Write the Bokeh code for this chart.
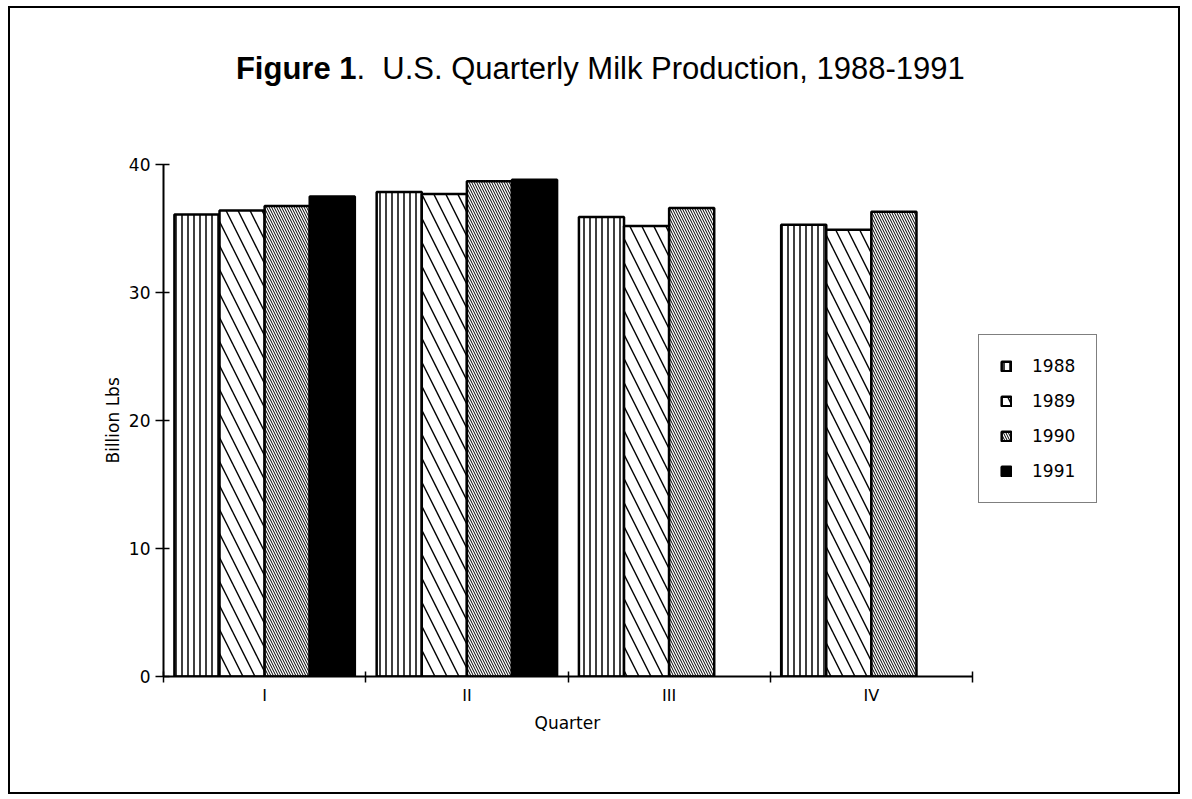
from bokeh.plotting import figure
from bokeh.models import ColumnDataSource, FixedTicker, Legend, LegendItem, Range1d, Label, Title
from bokeh.transform import dodge
from bokeh.embed import file_html
from bokeh.resources import INLINE

quarters = ["I", "II", "III", "IV"]
years = ["1988", "1989", "1990", "1991"]
y1988 = [36.1, 37.85, 35.9, 35.3]
y1989 = [36.4, 37.7, 35.2, 34.9]
y1990 = [36.75, 38.7, 36.6, 36.3]
y1991 = [37.5, 38.8, float("nan"), float("nan")]
y_ticks = [0, 10, 20, 30, 40]
title_bold = "Figure 1"
title_rest = ".\u00a0\u00a0U.S. Quarterly Milk Production, 1988-1991"
x_label = "Quarter"
y_label = "Billion Lbs"

n = len(quarters)
xpos = [i + 0.5 for i in range(n)]
source = ColumnDataSource(dict(x=xpos, q=quarters, y1988=y1988, y1989=y1989,
                               y1990=y1990, y1991=y1991))

# layout (pixels): axes region 809 x 512, frame extended right/up for legend and title
W, H = 1172, 788
left, bottom = 153, 120
axis_w, axis_h = 809, 512
frame_w, frame_h = W - left, H - bottom
y_max = y_ticks[-1]
x_end = n * frame_w / axis_w
y_end = y_max * frame_h / axis_h

p = figure(width=W, height=H, output_backend="svg", toolbar_location=None,
           x_range=Range1d(0, x_end), y_range=Range1d(0, y_end),
           min_border_left=left, min_border_right=0, min_border_top=0,
           min_border_bottom=bottom, title=None)
p.styles = {"border": "2px solid black", "margin-left": "8px", "margin-top": "6px"}
p.outline_line_color = None
p.xgrid.visible = False
p.ygrid.visible = False

w = 0.223
styles = {
    "1988": dict(fill_color="white", hatch_pattern="vertical_line", hatch_scale=6, hatch_weight=1.5),
    "1989": dict(fill_color="white", hatch_pattern="left_diagonal_line", hatch_scale=24, hatch_weight=1.4),
    "1990": dict(fill_color="white", hatch_pattern="left_diagonal_line", hatch_scale=5, hatch_weight=1.0),
    "1991": dict(fill_color="black"),
}
offsets = [-1.5 * w, -0.5 * w, 0.5 * w, 1.5 * w]
items = []
for yr, off in zip(years, offsets):
    r = p.vbar(x=dodge("x", off, range=p.x_range), top="y" + yr, width=w, bottom=0,
               source=source, line_color="black", line_width=2.5,
               hatch_color="black", **styles[yr])
    items.append(LegendItem(label=yr, renderers=[r]))

font = "DejaVu Sans"
legend = Legend(items=items, location=(815, 173), border_line_color="black",
                border_line_width=1.5, padding=21, spacing=15, glyph_width=12,
                glyph_height=12, label_standoff=20, label_text_font=font,
                label_text_font_size="17px", label_height=20, margin=0,
                label_text_color="black",
                background_fill_color="white", background_fill_alpha=1)
p.add_layout(legend, "center")

# axes
p.yaxis.bounds = (0, y_max)
p.yaxis.ticker = FixedTicker(ticks=y_ticks, minor_ticks=[])
p.yaxis.major_tick_out = 8
p.yaxis.major_tick_in = 6
p.yaxis.major_tick_line_width = 1.5
p.yaxis.axis_line_width = 2
p.yaxis.major_label_text_font = font
p.yaxis.major_label_text_font_size = "17px"
p.yaxis.major_label_text_color = "black"
p.yaxis.major_label_standoff = 5

p.xaxis.bounds = (0, n)
p.xaxis.ticker = FixedTicker(ticks=xpos, minor_ticks=list(range(n + 1)))
p.xaxis.major_label_overrides = {x: q for x, q in zip(xpos, quarters)}
p.xaxis.major_tick_in = 0
p.xaxis.major_tick_out = 0
p.xaxis.minor_tick_in = 5
p.xaxis.minor_tick_out = 6
p.xaxis.minor_tick_line_width = 1.5
p.xaxis.axis_line_width = 2
p.xaxis.major_label_text_font = font
p.xaxis.major_label_text_font_size = "16px"
p.xaxis.major_label_text_color = "black"
p.xaxis.major_label_standoff = 3

# axis titles, placed along the axis part of the panels
p.add_layout(Title(text=x_label, align="left", offset=567 - 163 - 33,
                   text_font=font, text_font_size="17px", text_font_style="normal",
                   text_color="black", standoff=6), "below")
p.add_layout(Title(text=y_label, align="left", offset=676 - 463,
                   text_font=font, text_font_size="17px", text_font_style="normal",
                   text_color="black", standoff=6), "left")

# title (two labels, bold + normal, joined at one anchor)
tx = (356 - 163) / axis_w * n
ty = y_max + (164 - 68) / axis_h * y_max
p.add_layout(Label(x=tx, y=ty, text=title_bold, text_align="right",
                   text_baseline="middle", text_font="Liberation Sans",
                   text_font_style="bold", text_font_size="31px", text_color="black"))
p.add_layout(Label(x=tx, y=ty, text=title_rest, text_align="left",
                   text_baseline="middle", text_font="Liberation Sans",
                   text_font_size="31px", text_color="black"))

open("out.html", "w").write(file_html(p, INLINE))
